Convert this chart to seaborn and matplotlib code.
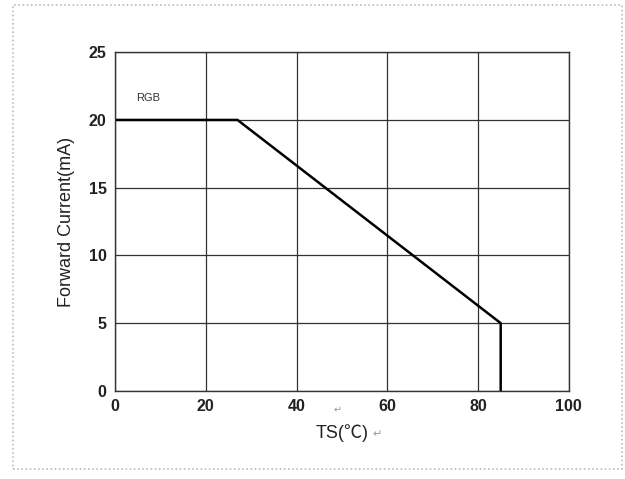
import numpy as np
import pandas as pd
import seaborn as sns
import matplotlib.pyplot as plt
from matplotlib.patches import Rectangle

# derating curve data
ts = [0, 27, 85, 85]
current = [20, 20, 5, 0]
x_ticks = [0, 20, 40, 60, 80, 100]
y_ticks = [0, 5, 10, 15, 20, 25]

df = pd.DataFrame({"TS": ts, "I": current})

sns.set_style("white")
plt.rcParams['font.family'] = ['Liberation Sans', 'Noto Sans CJK SC', 'DejaVu Sans']

fig = plt.figure(figsize=(6.25, 4.79), dpi=100)
ax = fig.add_axes([0.184, 0.184, 0.726, 0.707])

sns.lineplot(x="TS", y="I", data=df, sort=False, estimator=None, errorbar=None,
             color="black", linewidth=1.8, ax=ax)

ax.set_xlim(0, 100)
ax.set_ylim(0, 25)
ax.set_xticks(x_ticks)
ax.set_yticks(y_ticks)
ax.grid(True, color="#333333", linewidth=0.9)
for s in ax.spines.values():
    s.set_color("#333333")
    s.set_linewidth(1.0)
ax.tick_params(length=0, pad=6)
for lab in ax.get_xticklabels() + ax.get_yticklabels():
    lab.set_fontweight("bold")
    lab.set_fontsize(11.5)
    lab.set_color("#222222")

ax.set_xlabel("TS(℃)", fontsize=13, color="#222222", labelpad=7,
              family=['Liberation Sans', 'Noto Sans CJK SC'])
ax.set_ylabel("Forward Current(mA)", fontsize=13, color="#222222", labelpad=10)

ax.text(7.3, 21.6, "RGB", fontsize=8, color="#333333", ha="center", va="center")
fig.text(0.54, 0.138, "↵", fontsize=7, color="#999999", ha="center", family=['DejaVu Sans'])
fig.text(0.603, 0.088, "↵", fontsize=8, color="#999999", ha="center", family=['DejaVu Sans'])

fig.patches.append(Rectangle((0.02, 0.02), 0.975, 0.97, transform=fig.transFigure,
                             fill=False, edgecolor="#bbbbbb", linestyle=(0, (1, 1.5)), linewidth=1.2))

fig.savefig("out.png", dpi=100)
